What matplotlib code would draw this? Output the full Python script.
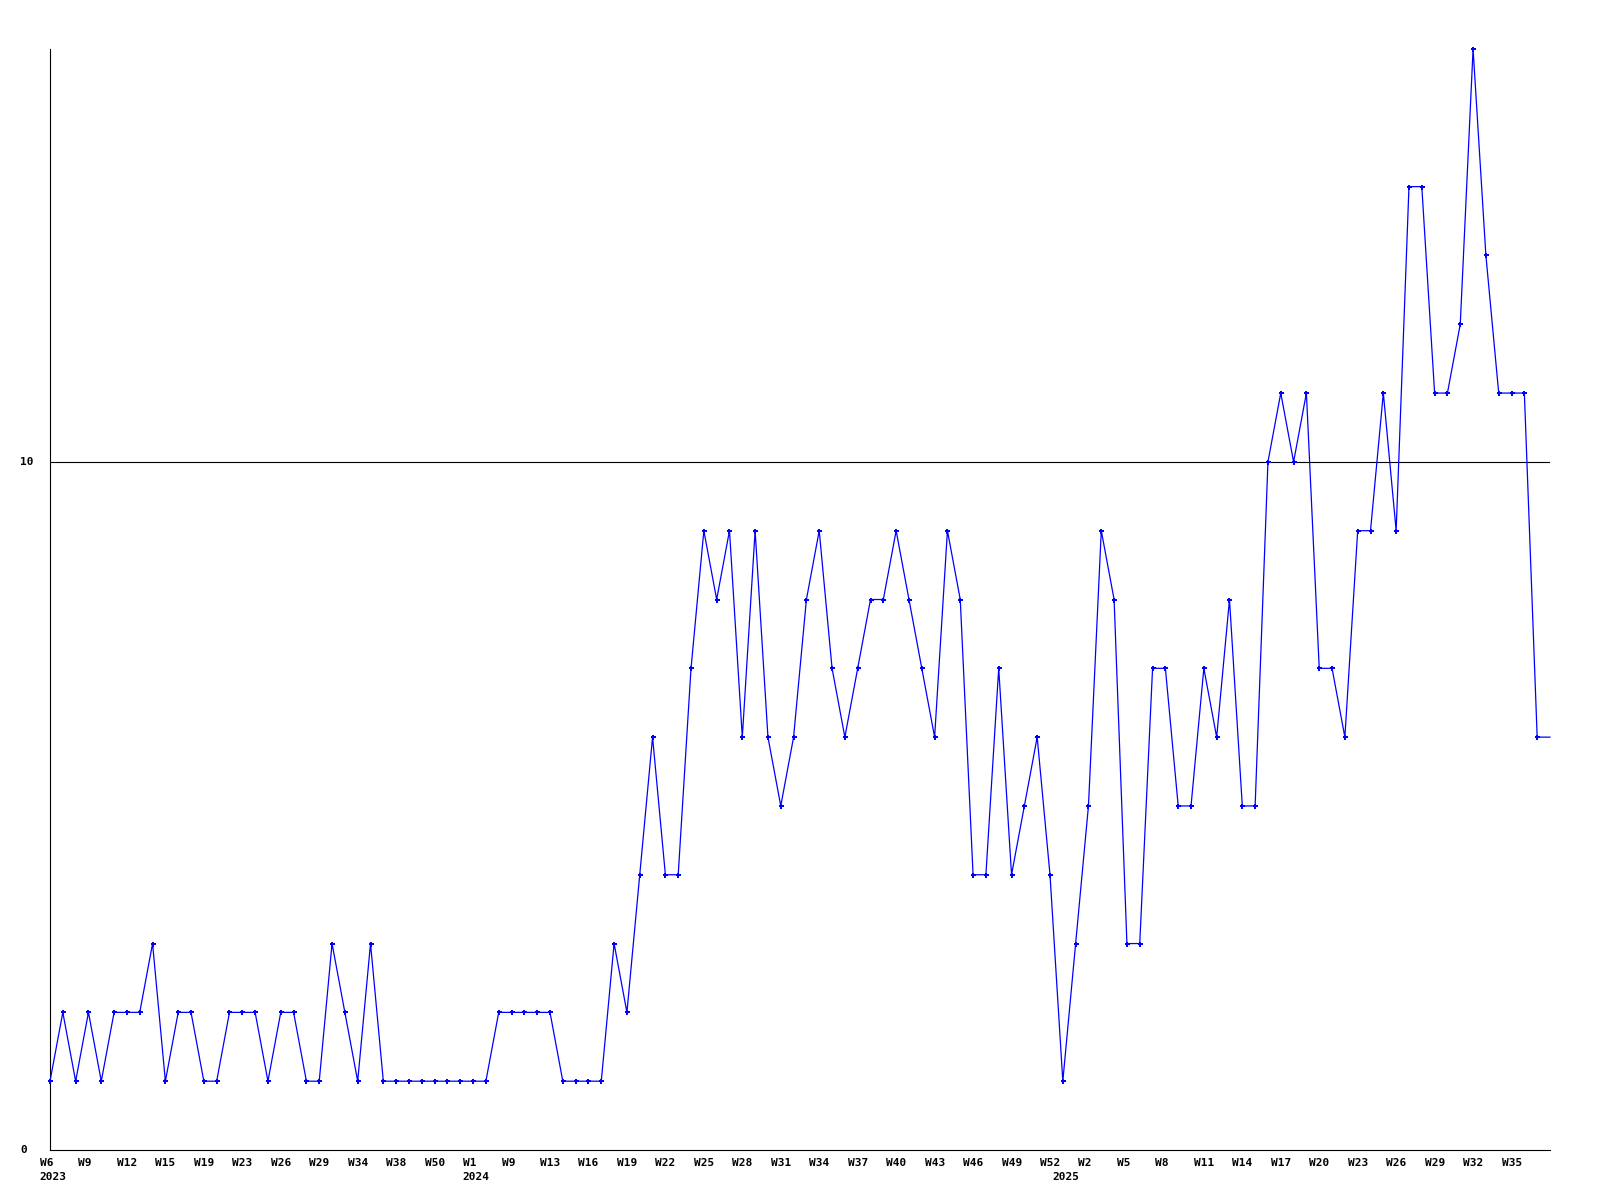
import matplotlib
matplotlib.use('Agg')
import matplotlib.pyplot as plt

# weekly counts, one per point, in order
values = [
    1, 2, 1, 2, 1, 2, 2, 2, 3, 1,
    2, 2, 1, 1, 2, 2, 2, 1, 2, 2,
    1, 1, 3, 2, 1, 3, 1, 1, 1, 1,
    1, 1, 1, 1, 1, 2, 2, 2, 2, 2,
    1, 1, 1, 1, 3, 2, 4, 6, 4, 4,
    7, 9, 8, 9, 6, 9, 6, 5, 6, 8,
    9, 7, 6, 7, 8, 8, 9, 8, 7, 6,
    9, 8, 4, 4, 7, 4, 5, 6, 4, 1,
    3, 5, 9, 8, 3, 3, 7, 7, 5, 5,
    7, 6, 8, 5, 5, 10, 11, 10, 11, 7,
    7, 6, 9, 9, 11, 9, 14, 14, 11, 11,
    12, 16, 13, 11, 11, 11, 6, 6,
]

# label on every third point
tick_labels = [
    'W6', 'W9', 'W12', 'W15', 'W19', 'W23', 'W26', 'W29', 'W34', 'W38', 'W50',
    'W1', 'W9', 'W13', 'W16', 'W19', 'W22', 'W25', 'W28', 'W31', 'W34', 'W37',
    'W40', 'W43', 'W46', 'W49', 'W52',
    'W2', 'W5', 'W8', 'W11', 'W14', 'W17', 'W20', 'W23', 'W26', 'W29', 'W32', 'W35',
]
# first point of each year
year_starts = {0: '2023', 33: '2024', 79: '2025'}

y_labels = [0, 10]
ref_line = 10

LINE = '#0000ff'
FONT = dict(family='DejaVu Sans Mono', fontweight='bold', fontsize=8, color='black')

fig = plt.figure(figsize=(16, 12), dpi=100, facecolor='white')
ax = fig.add_axes([50 / 1600, 1 - 1150 / 1200, 1500 / 1600, 1101 / 1200])

x = list(range(len(values)))
ax.plot(x, values, color=LINE, linewidth=0.9, zorder=3,
        marker='P', markersize=3.6, markeredgewidth=0,
        markevery=list(range(len(values) - 1)), clip_on=False)

ax.axhline(ref_line, color='black', linewidth=0.8, zorder=2)

ax.set_xlim(0, len(values) - 1)
ax.set_ylim(0, 16)

for side in ['top', 'right']:
    ax.spines[side].set_visible(False)
for side in ['left', 'bottom']:
    ax.spines[side].set_color('black')
    ax.spines[side].set_linewidth(0.8)

ax.set_xticks([])
ax.set_yticks([])

# y labels
for v in y_labels:
    ax.annotate(str(v), xy=(0, v), xycoords=('axes fraction', 'data'),
                xytext=(-21.6, 0), textcoords='offset points',
                ha='left', va='center', **FONT)

# x labels, left edge a little before the point
for i, lab in enumerate(tick_labels):
    ax.annotate(lab, xy=(i * 3, 0), xycoords=('data', 'axes fraction'),
                xytext=(-7.2, -6.0), textcoords='offset points',
                ha='left', va='top', annotation_clip=False, **FONT)

for pos, yr in year_starts.items():
    ax.annotate(yr, xy=(pos, 0), xycoords=('data', 'axes fraction'),
                xytext=(-7.6, -16.0), textcoords='offset points',
                ha='left', va='top', annotation_clip=False, **FONT)

fig.savefig('out.png', dpi=100, facecolor='white')
